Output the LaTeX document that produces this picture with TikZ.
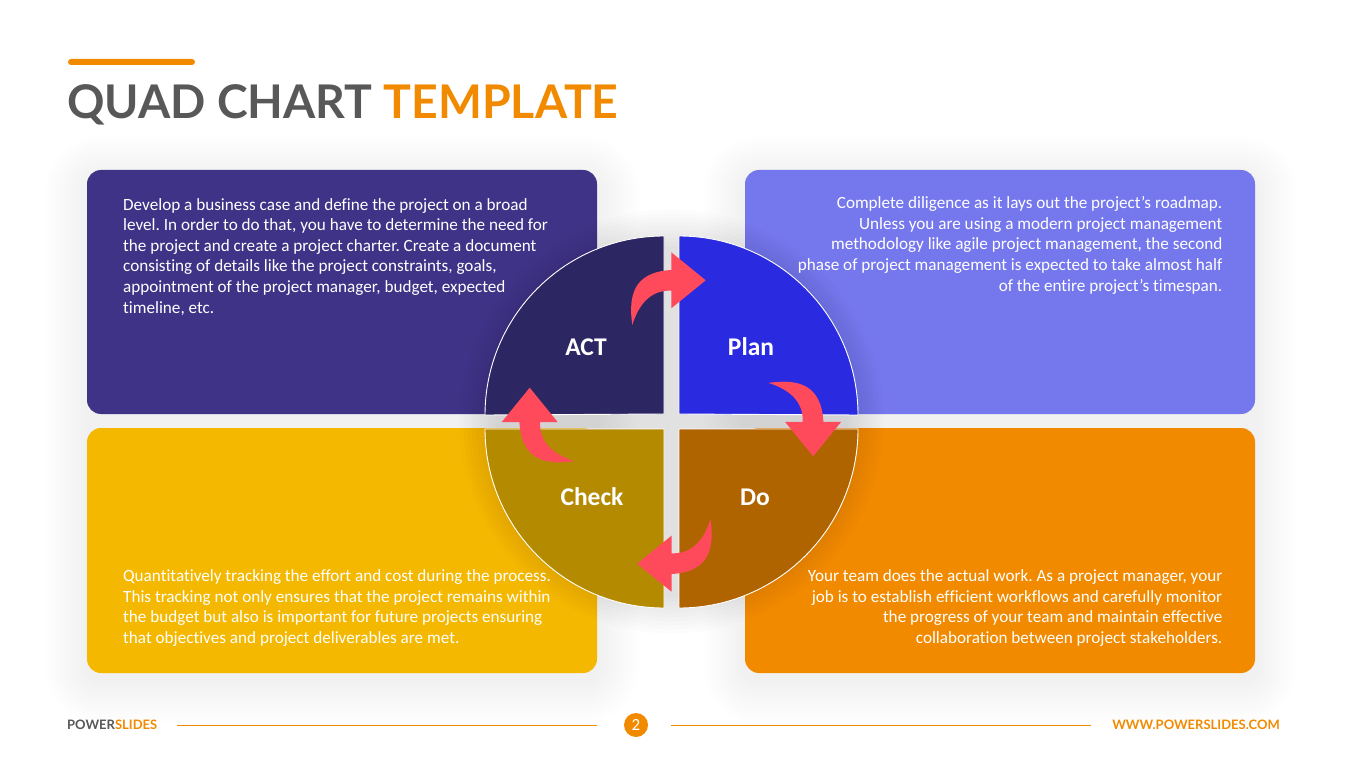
\documentclass[tikz,border=0pt]{standalone}
\usepackage{fontspec}
\setmainfont[Ligatures=CommonOff]{Carlito}
\newfontfamily\titlefont{Lato}
\usepackage{tikz,graphicx}
\frenchspacing

\definecolor{orangeps}{HTML}{F28A00}
\definecolor{greyps}{HTML}{585858}
\definecolor{arrowcol}{HTML}{FF4A5C}

\tikzset{
	quadbox/.style={rounded corners=14pt, draw=none},
	sector/.style={draw=white, line width=0.9pt},
	bodytext/.style={text=white, inner sep=0pt, font=\fontsize{17.15}{20.6}\selectfont},
	sectorlabel/.style={text=white, inner sep=0pt, font=\fontsize{25.5}{25.5}\selectfont\bfseries},
	footline/.style={draw={rgb,255:red,242;green,138;blue,0}, line width=1.1pt}
}

\begin{document}
\begin{tikzpicture}[x=1pt,y=-1pt]
 \useasboundingbox[fill=white] (0,0) rectangle (1365,767);

	% Ombres
 \foreach \s in {1,...,14}{
	\pgfmathsetmacro{\e}{3*\s}
	\pgfmathsetmacro{\r}{14+3*\s}
	\fill[black, opacity=0.0035, rounded corners=\r pt] (87-\e,170-\e+8) rectangle (597+\e,673+\e+8);
	\fill[black, opacity=0.0035, rounded corners=\r pt] (745-\e,170-\e+8) rectangle (1255+\e,673+\e+8);
 }

	% Pied de page
 \coordinate (lineA) at (177,725.5);
 \coordinate (lineB) at (597,725.5);
 \coordinate (lineC) at (671,725.5);
 \coordinate (lineD) at (1091,725.5);
 \draw[footline] (lineA) -- (lineB);
 \draw[footline] (lineC) -- (lineD);
 \node[anchor=base west, inner sep=0pt, font=\fontsize{13}{13}\selectfont\titlefont\bfseries, text=greyps] (brand) at (67,729) {POWER\textcolor{orangeps}{SLIDES}};
 \node[anchor=base east, inner sep=0pt, font=\fontsize{13}{13}\selectfont\titlefont\bfseries, text=orangeps] (site) at (1280,729) {WWW.POWERSLIDES.COM};
 \node[circle, fill=orangeps, text=white, minimum size=24pt, inner sep=0pt, font=\fontsize{17}{17}\selectfont] (page) at (636,725) {2};

	% Titre
 \fill[orangeps, rounded corners=3pt] (68,59) rectangle (195,65);
 \node[anchor=base west, inner sep=0pt, font=\fontsize{46.4}{46.4}\selectfont\titlefont\bfseries, text=greyps] (title) at (67,119) {QUAD CHART \textcolor{orangeps}{TEMPLATE}};

	% Cadres
 \fill[quadbox, fill={rgb,255:red,63;green,51;blue,135}] (87,170) rectangle (597,414);
 \fill[quadbox, fill={rgb,255:red,117;green,119;blue,236}] (745,170) rectangle (1255,414);
 \fill[quadbox, fill={rgb,255:red,245;green,184;blue,0}] (87,428) rectangle (597,673);
 \fill[quadbox, fill={rgb,255:red,242;green,138;blue,0}] (745,428) rectangle (1255,673);

	% Ombre du cercle
 \foreach \s in {212,208,...,176}{
	\fill[black, opacity=0.011] (671.5,421.5) circle[radius=\s];
 }

	% Secteurs
 \draw[sector, fill={rgb,255:red,44;green,38;blue,99}] (664,414) -- (664,236) arc[start angle=270, end angle=180, radius=179] -- cycle;
 \draw[sector, fill={rgb,255:red,42;green,42;blue,224}] (679,414) -- (679,236) arc[start angle=270, end angle=360, radius=179] -- cycle;
 \draw[sector, fill={rgb,255:red,179;green,138;blue,0}] (664,429) -- (664,608) arc[start angle=90, end angle=180, radius=179] -- cycle;
 \draw[sector, fill={rgb,255:red,176;green,100;blue,0}] (679,429) -- (679,608) arc[start angle=90, end angle=0, radius=179] -- cycle;

	% Fleches
 \foreach \a in {0,-90,-180,-270}{
	\fill[arrowcol, rotate around={\a:(671.4,422)}] (632.3,325)
		.. controls (628,295) and (634,272) .. (671.3,270)
		-- (671.3,252.3) -- (705.7,280.3) -- (671.3,308.3) -- (671.3,290.7)
		.. controls (654,290) and (640,300) .. cycle;
 }

	% Etiquettes
 \node[sectorlabel] (act) at (586,347) {ACT};
 \node[sectorlabel] (plan) at (751,347) {Plan};
 \node[sectorlabel] (check) at (592,497) {Check};
 \node[sectorlabel] (do) at (755,497) {Do};

	% Textes
 \node[bodytext, anchor=north west, align=left] (txtact) at (123,198) {Develop a business case and define the project on a broad\\level. In order to do that, you have to determine the need for\\the project and create a project charter. Create a document\\consisting of details like the project constraints, goals,\\appointment of the project manager, budget, expected\\timeline, etc.};
 \node[bodytext, anchor=north east, align=right] (txtplan) at (1222.5,196.5) {Complete diligence as it lays out the project’s roadmap.\\Unless you are using a modern project management\\methodology like agile project management, the second\\phase of project management is expected to take almost half\\of the entire project’s timespan.};
 \node[bodytext, anchor=north west, align=left] (txtcheck) at (123,569.5) {Quantitatively tracking the effort and cost during the process.\\This tracking not only ensures that the project remains within\\the budget but also is important for future projects ensuring\\that objectives and project deliverables are met.};
 \node[bodytext, anchor=north east, align=right] (txtdo) at (1222.5,569.5) {Your team does the actual work. As a project manager, your\\job is to establish efficient workflows and carefully monitor\\the progress of your team and maintain effective\\collaboration between project stakeholders.};
\end{tikzpicture}
\end{document}
